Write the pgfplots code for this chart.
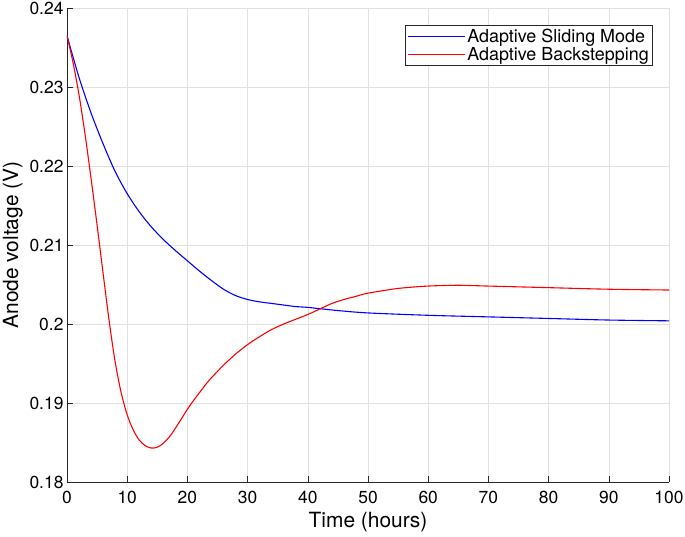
\documentclass[border=0pt]{standalone}
\usepackage{pgfplots}
\pgfplotsset{compat=1.18}
\usepackage{fontspec}
\setmainfont{TeX Gyre Heros}
\definecolor{axgray}{gray}{0.15}
\definecolor{gridgray}{gray}{0.88}
\begin{document}
\begin{tikzpicture}
\begin{axis}[
  name=ax,
  scale only axis,
  width=602bp, height=474bp,
  xmin=0, xmax=100, ymin=0.18, ymax=0.24,
  axis x line*=bottom, axis y line*=left,
  axis line style={-, axgray, line width=0.8pt},
  tick align=inside,
  major tick length=6bp,
  tick style={axgray, line width=0.6pt},
  xtick={0,10,...,100},
  ytick={0.18,0.19,0.2,0.21,0.22,0.23,0.24},
  yticklabels={0.18,0.19,0.2,0.21,0.22,0.23,0.24},
  xticklabels={0,10,20,30,40,50,60,70,80,90,100},
  grid=major,
  major grid style={gridgray, line width=0.6pt},
  ticklabel style={font=\fontsize{17.5}{20}\selectfont},
  xticklabel style={yshift=-6bp},
  label style={font=\fontsize{21}{24}\selectfont},
  xlabel style={yshift=-1bp},
  xlabel={Time (hours)},
  ylabel={Anode voltage (V)},
  legend style={at={(0.9734,0.964)}, anchor=north east, draw=axgray, line width=0.6pt,
    font=\fontsize{18}{20}\selectfont, fill=white, inner sep=2pt, row sep=-1pt,
    legend cell align=left},
  legend image code/.code={\draw[#1] (0bp,0bp) -- (57bp,0bp);},
]
\addplot[color=blue, line width=1.1pt, smooth] coordinates {
(0,0.2365)(2,0.2312)(4,0.2267)(6,0.2228)(8,0.2193)(10,0.2165)(12,0.2142)(14,0.2123)
(16,0.2107)(18,0.2093)(20,0.2080)(22,0.2067)(24,0.2055)(26,0.2044)(28,0.2036)
(30,0.2031)(32,0.2028)(34,0.2026)(36,0.2024)(38,0.2022)(40,0.2021)(45,0.2017)
(50,0.2014)(60,0.2011)(70,0.2009)(80,0.2007)(90,0.2005)(100,0.2004)};
\addlegendentry{Adaptive Sliding Mode}
\addplot[color=red, line width=1.1pt, smooth] coordinates {
(0,0.2365)(1,0.2331)(2,0.2290)(3,0.2240)(4,0.2184)(5,0.2125)(6,0.2064)(7,0.2004)
(8,0.1952)(9,0.1913)(10,0.1885)(11,0.1866)(12,0.1853)(13,0.1846)(14,0.1843)
(15,0.1844)(16,0.1849)(17,0.1857)(18,0.1868)(19,0.1880)(20,0.1892)(21,0.1903)
(22,0.1913)(23,0.1923)(24,0.1932)(25,0.1940)(26,0.1948)(27,0.1955)(28,0.1962)
(29,0.1968)(30,0.1974)(32,0.1984)(34,0.1993)(36,0.2000)(38,0.2006)(40,0.2012)
(42,0.2019)(44,0.2026)(46,0.2031)(48,0.2035)(50,0.2039)(55,0.2045)(60,0.2048)
(65,0.2049)(70,0.2048)(80,0.2046)(90,0.2044)(100,0.2043)};
\addlegendentry{Adaptive Backstepping}
\end{axis}
\pgfresetboundingbox
\path ([shift={(-67bp,-55bp)}]ax.south west) rectangle ([shift={(16bp,8bp)}]ax.north east);
\end{tikzpicture}
\end{document}
